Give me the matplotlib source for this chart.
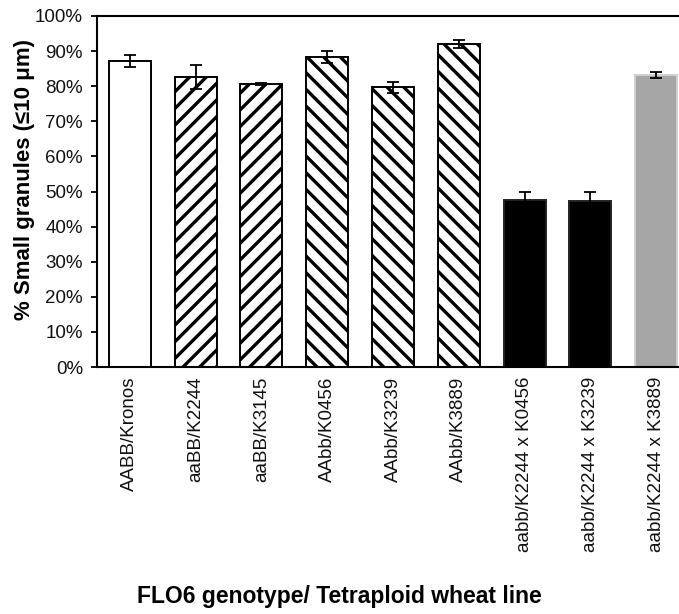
import matplotlib
matplotlib.use("Agg")
import matplotlib.pyplot as plt
from matplotlib.ticker import PercentFormatter

lines = ["AABB/Kronos", "aaBB/K2244", "aaBB/K3145", "AAbb/K0456", "AAbb/K3239",
         "AAbb/K3889", "aabb/K2244 x K0456", "aabb/K2244 x K3239", "aabb/K2244 x K3889"]
small_pct = [87.2, 82.5, 80.7, 88.3, 79.7, 92.1, 47.6, 47.3, 83.2]
err_pct = [1.6, 3.4, 0.3, 1.8, 1.6, 1.2, 2.3, 2.5, 0.8]
fills = ["white", "white", "white", "white", "white", "white", "black", "black", "#a6a6a6"]
edges = ["black", "black", "black", "black", "black", "black", "#222222", "#222222", "#d0d0d0"]
hatches = [None, "//", "//", "\\\\", "\\\\", "\\\\", None, None, None]

plt.rcParams['font.family'] = ['Liberation Sans', 'DejaVu Sans']
plt.rcParams['hatch.linewidth'] = 2.4

fig = plt.figure(figsize=(6.79, 6.14), dpi=100)
ax = fig.add_axes([97 / 679, 247 / 614, 592 / 679, 351 / 614])

x = range(len(lines))
for i in x:
    ax.bar(i, small_pct[i], width=0.64, color=fills[i], edgecolor=edges[i],
           hatch=hatches[i], linewidth=1.4, zorder=2)
ax.errorbar(list(x), small_pct, yerr=err_pct, fmt="none", ecolor="black",
            elinewidth=1.3, capsize=4, capthick=1.3, zorder=3)

ax.set_xlim(-0.5, len(lines) - 0.5)
ax.set_ylim(0, 100)
ax.set_yticks(range(0, 101, 10))
ax.yaxis.set_major_formatter(PercentFormatter(decimals=0))
ax.set_xticks(list(x))
ax.set_xticklabels(lines, rotation=90, fontsize=13.5, color="#111111")
ax.tick_params(axis="x", length=0, pad=7)
ax.tick_params(axis="y", length=4, width=1.3, direction="out", labelsize=13.5,
               colors="black", labelcolor="#111111", pad=6)
for s in ["left", "bottom", "top", "right"]:
    ax.spines[s].set_linewidth(1.5)

ax.set_ylabel("% Small granules (≤10 μm)", fontsize=16, fontweight="bold")
ax.yaxis.set_label_coords(-62 / 592, 0.535)
fig.text(339 / 679, 1 - 597 / 614, "FLO6 genotype/ Tetraploid wheat line", fontsize=16.5,
         fontweight="bold", ha="center", va="center")

fig.savefig("out.png", dpi=100)
